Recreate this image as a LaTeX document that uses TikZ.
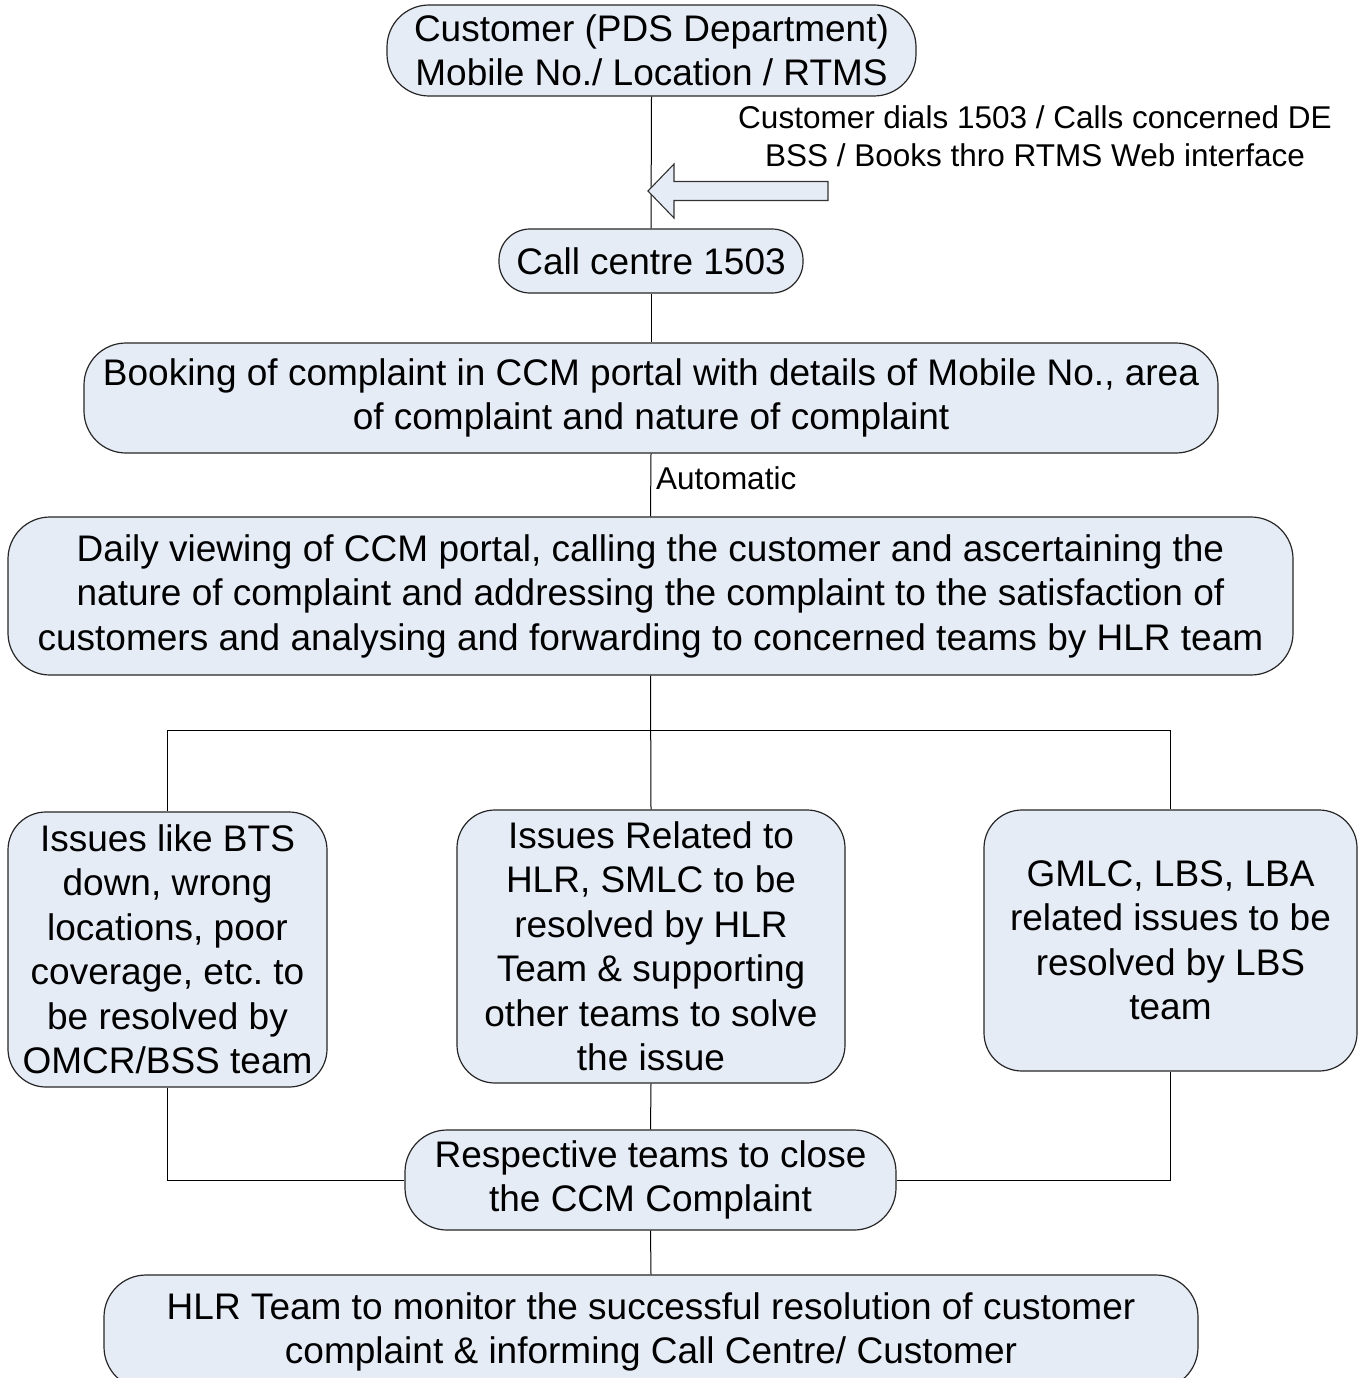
\documentclass[tikz,border=0pt]{standalone}
\usepackage{fontspec}
\setmainfont{Liberation Sans}
\newcommand\myBig{\fontsize{37}{44.5}\selectfont}
\newcommand\mySmall{\fontsize{31.5}{38}\selectfont}
\definecolor{boxfill}{RGB}{230,236,246}
\tikzset{
  box/.style={draw=black!85, line width=1.2pt, fill=boxfill, rounded corners=#1,
    inner sep=0pt, align=center, font=\myBig},
  box/.default=40pt,
  conn/.style={draw=black, line width=1pt},
  lbl/.style={font=\mySmall, align=center, inner sep=0pt}
}
\begin{document}
\frenchspacing
\begin{tikzpicture}[x=1pt,y=-1pt]
\clip (0,0) rectangle (1363,1378);
\fill[white] (0,0) rectangle (1363,1378);
\coordinate (split) at (651,730);
% nodes
\node[box=42pt, minimum width=529pt, minimum height=91pt] (top) at (651.5,50.5)
  {Customer (PDS Department)\\Mobile No./ Location / RTMS};
\node[box=31pt, minimum width=304pt, minimum height=64pt] (cc) at (651,261)
  {Call centre 1503};
\node[box=42pt, minimum width=1134pt, minimum height=110pt] (book) at (651,398)
  {Booking of complaint in CCM portal with details of Mobile No., area\\of complaint and nature of complaint};
\node[box=42pt, minimum width=1285pt, minimum height=158pt] (daily) at (650.5,596)
  {Daily viewing of CCM portal, calling the customer and ascertaining the\\nature of complaint and addressing the complaint to the satisfaction of\\customers and analysing and forwarding to concerned teams by HLR team};
\node[box=38pt, minimum width=319pt, minimum height=275pt] (left) at (167.5,949.5)
  {Issues like BTS\\down, wrong\\locations, poor\\coverage, etc.\ to\\be resolved by\\OMCR/BSS team};
\node[box=38pt, minimum width=388pt, minimum height=273pt] (mid) at (651,946.5)
  {Issues Related to\\HLR, SMLC to be\\resolved by HLR\\Team \& supporting\\other teams to solve\\the issue};
\node[box=38pt, minimum width=373pt, minimum height=261pt] (right) at (1170.5,940.5)
  {GMLC, LBS, LBA\\related issues to be\\resolved by LBS\\team};
\node[box=42pt, minimum width=491pt, minimum height=100pt] (resp) at (650.5,1180)
  {Respective teams to close\\the CCM Complaint};
\node[box=42pt, minimum width=1094pt, minimum height=114pt] (hlr) at (651,1332)
  {HLR Team to monitor the successful resolution of customer\\complaint \& informing Call Centre/ Customer};
% labels
\node[lbl] (dials) at (1035,136)
  {Customer dials 1503 / Calls concerned DE\\BSS / Books thro RTMS Web interface};
\node[lbl, anchor=west] (auto) at (656,478) {Automatic};
% connectors
\draw[conn] (top.south) -- (cc.north);
\draw[conn] (cc.south) -- (book.north);
\draw[conn] (book.south) -- (daily.north);
\draw[conn] (daily.south) -- (mid.north);
\draw[conn] (split -| left.north) -- (split -| right.north);
\draw[conn] (split -| left.north) -- (left.north);
\draw[conn] (split -| right.north) -- (right.north);
\draw[conn] (left.south) |- (resp.west);
\draw[conn] (right.south) |- (resp.east);
\draw[conn] (mid.south) -- (resp.north);
\draw[conn] (resp.south) -- (hlr.north);
% block arrow
\draw[line width=1.1pt, draw=black!80, fill=boxfill]
  (648,191) -- (674,164) -- (674,181.5) -- (828,181.5) -- (828,200.5)
  -- (674,200.5) -- (674,218) -- cycle;
\end{tikzpicture}
\end{document}
